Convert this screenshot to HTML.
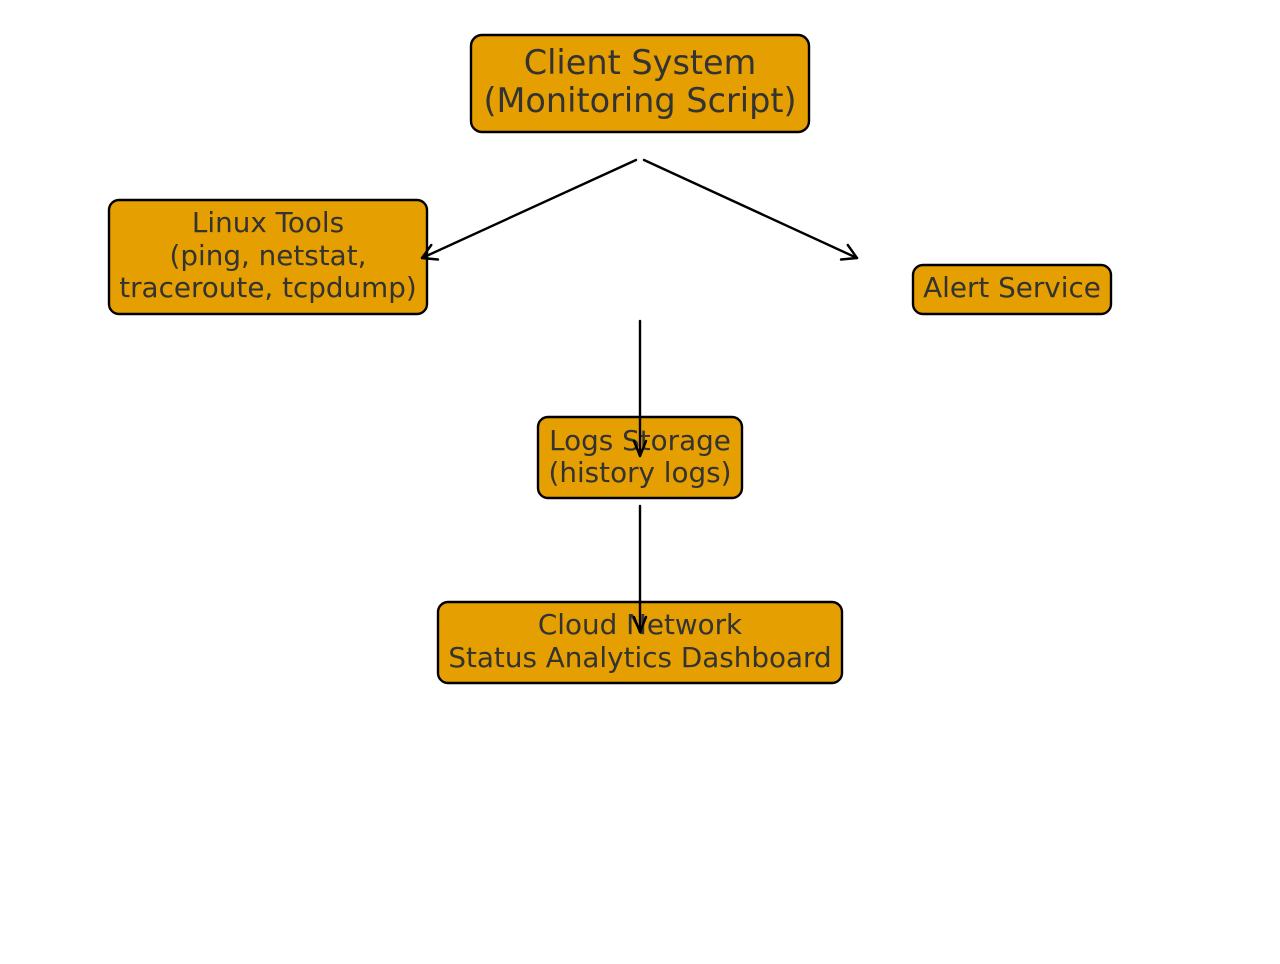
<!DOCTYPE html>
<html><head><meta charset="utf-8"><style>
html,body{margin:0;padding:0;background:#fff}
svg{display:block}
text{font-family:"DejaVu Sans","Liberation Sans",sans-serif;fill:#333;text-anchor:middle}
</style></head><body>
<svg width="1280" height="964" viewBox="0 0 1280 964" xmlns="http://www.w3.org/2000/svg">
<g fill="#E69F00" stroke="#000" stroke-width="2.4">
<rect x="471" y="35" width="338" height="97" rx="11"/>
<rect x="109" y="200" width="318" height="114" rx="10"/>
<rect x="913" y="265" width="198" height="49" rx="10"/>
<rect x="538" y="417" width="204" height="81" rx="10"/>
<rect x="438" y="602" width="404" height="81" rx="10"/>
</g>
<text font-size="33.5" x="640" y="74">Client System</text>
<text font-size="33.5" x="640" y="112">(Monitoring Script)</text>
<text font-size="27.8" x="268" y="232">Linux Tools</text>
<text font-size="27.8" x="268" y="265">(ping, netstat,</text>
<text font-size="27.8" x="268" y="297">traceroute, tcpdump)</text>
<text font-size="27.8" x="1012" y="297">Alert Service</text>
<text font-size="27.8" x="640" y="450">Logs Storage</text>
<text font-size="27.8" x="640" y="482">(history logs)</text>
<text font-size="27.8" x="640" y="634">Cloud Network</text>
<text font-size="27.8" x="640" y="667">Status Analytics Dashboard</text>
<g stroke="#000" stroke-width="2.4" fill="none" stroke-linecap="round" stroke-linejoin="round">
<line x1="636" y1="160" x2="422" y2="258"/>
<polyline points="438,259.5 422,258 431.3,245"/>
<line x1="644" y1="160" x2="857" y2="258"/>
<polyline points="847.8,245 857,258 841,259.5"/>
<line x1="640" y1="321" x2="640" y2="456"/>
<polyline points="634,441 640,456 646,441"/>
<line x1="640" y1="506" x2="640" y2="632"/>
<polyline points="634,617 640,632 646,617"/>
</g>
</svg>
</body></html>
